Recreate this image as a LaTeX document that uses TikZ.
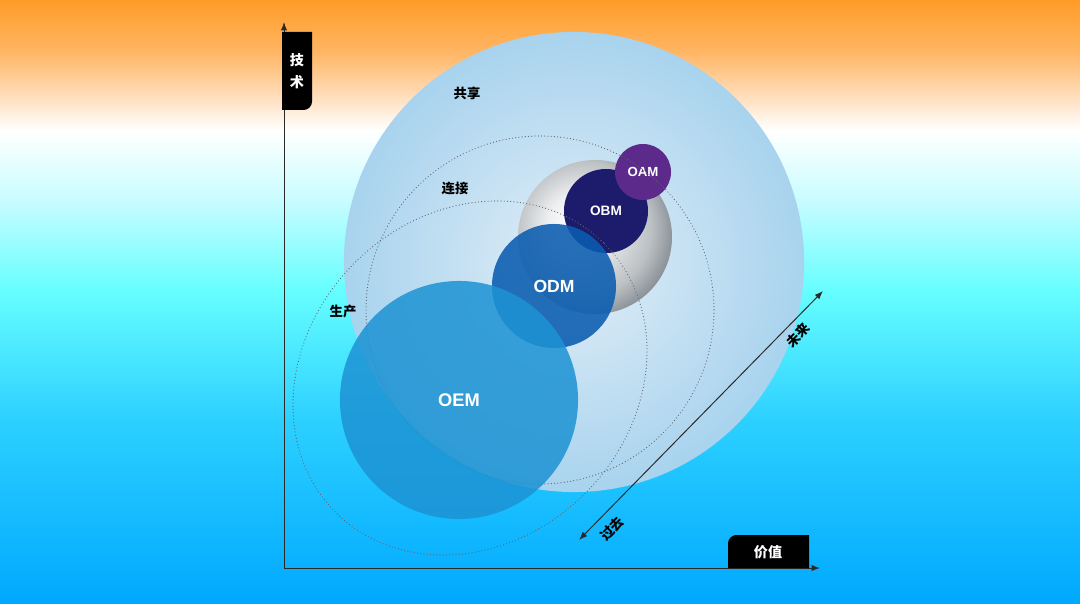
\documentclass[tikz,border=0pt]{standalone}
\usepackage{fontspec}
\setmainfont{Liberation Sans}
\newfontfamily\cjk{Noto Sans CJK SC}
\usetikzlibrary{arrows.meta}

\definecolor{bgtop}{HTML}{FF9C28}
\definecolor{bgorange}{HTML}{FFB460}
\definecolor{bgpeach}{HTML}{FFDDBA}
\definecolor{bgpale}{HTML}{C8FCFF}
\definecolor{bgcyan}{HTML}{66FEFF}
\definecolor{bglow}{HTML}{2CD0FF}
\definecolor{bgbot}{HTML}{00A8FF}
\definecolor{axisgray}{HTML}{2A2A2A}
\definecolor{dotgray}{HTML}{5E666E}
\definecolor{shareinner}{HTML}{E2EEF7}
\definecolor{shareouter}{HTML}{A8D3EE}
\definecolor{spheregray}{HTML}{868E94}
\definecolor{oampurple}{HTML}{5C2A8A}
\definecolor{obmblue}{HTML}{1D1B6C}
\definecolor{odmblue}{HTML}{0A5CB0}
\definecolor{oemblue}{HTML}{1D93D4}

\pgfdeclareverticalshading{skyfade}{100bp}{color(0bp)=(bgbot); color(25bp)=(bgbot);
  color(40.2bp)=(bglow); color(51bp)=(bgcyan); color(58.4bp)=(bgpale);
  color(64.2bp)=(white); color(67.1bp)=(bgpeach); color(70.9bp)=(bgorange);
  color(75bp)=(bgtop); color(100bp)=(bgtop)}
\pgfdeclareradialshading{graysphere}{\pgfpoint{-7bp}{5bp}}{color(0bp)=(white);
  color(10bp)=(spheregray!15); color(22bp)=(spheregray!55); color(29bp)=(spheregray); color(50bp)=(spheregray)}

\begin{document}
\begin{tikzpicture}[x=0.025cm,y=-0.025cm,
    axisline/.style={draw=axisgray, line width=0.7pt, -{Latex[length=6pt,width=4.5pt]}},
    timeline/.style={draw=axisgray, line width=0.7pt, {Latex[length=6pt,width=4.5pt]}-{Latex[length=6pt,width=4.5pt]}},
    tagtext/.style={text=white, font=\cjk\bfseries\fontsize{10}{16}\selectfont, align=center},
    ringlabel/.style={text=black, font=\cjk\bfseries\fontsize{9.5}{11}\selectfont},
    bubble/.style={circle, inner sep=0pt, text=white},
    dotring/.style={draw=dotgray, line width=0.85pt, dash pattern=on 0pt off 2.3pt, line cap=round}]

    % backdrop
    \shade[shading=skyfade] (0,0) rectangle (1080,604);
    \useasboundingbox (0,0) rectangle (1080,604);

    % bubbles
    \node[circle, inner sep=0pt, minimum size=11.5cm, inner color=shareinner, outer color=shareouter] (share) at (574,262) {};
    \node[circle, inner sep=0pt, minimum size=3.85cm, shade, shading=graysphere] (core) at (595,237) {};
    \node[bubble, fill=obmblue, minimum size=2.1cm, font=\bfseries\fontsize{9.7}{11}\selectfont] (obm) at (606,211) {OBM};
    \node[bubble, fill=oampurple, minimum size=1.4cm, font=\bfseries\fontsize{9.4}{11}\selectfont] (oam) at (643,172) {OAM};

    \draw[dotring] (540,310) circle (174);
    \draw[dotring, rotate around={45:(470,378)}] (470,378) ellipse [x radius=190, y radius=163];

    \node[bubble, fill=odmblue, fill opacity=0.88, text opacity=1, minimum size=3.1cm, font=\bfseries\fontsize{12.5}{14}\selectfont] (odm) at (554,286) {ODM};
    \node[bubble, fill=oemblue, fill opacity=0.86, text opacity=1, minimum size=5.95cm, font=\bfseries\fontsize{13}{15}\selectfont] (oem) at (459,400) {OEM};

    \node[ringlabel] (sharelabel) at (467,93) {共享};
    \node[ringlabel] (linklabel) at (455,188) {连接};
    \node[ringlabel] (makelabel) at (343,311) {生产};

    % axes
    \coordinate (origin) at (284,568);
    \coordinate (ytip) at (284,22);
    \coordinate (xtip) at (820,568);
    \draw[axisline] (origin) -- (ytip);
    \draw[axisline] (origin) -- (xtip);

    \fill (282,32) -- (312,32) [rounded corners=6pt] -- (312,110) [sharp corners] -- (282,110) -- cycle;
    \node[tagtext] (tech) at (297,71) {技\\术};
    \fill (809,568) -- (728,568) [rounded corners=6pt] -- (728,535) [sharp corners] -- (809,535) -- cycle;
    \node[tagtext] (value) at (768,552) {价值};

    % past / future
    \coordinate (past) at (579,540);
    \coordinate (future) at (823,291);
    \draw[timeline] (past) -- (future)
      node[ringlabel, pos=0.86, sloped, below=1pt] (futurelabel) {未来}
      node[ringlabel, pos=0.09, sloped, below=3pt] (pastlabel) {过去};
\end{tikzpicture}
\end{document}
